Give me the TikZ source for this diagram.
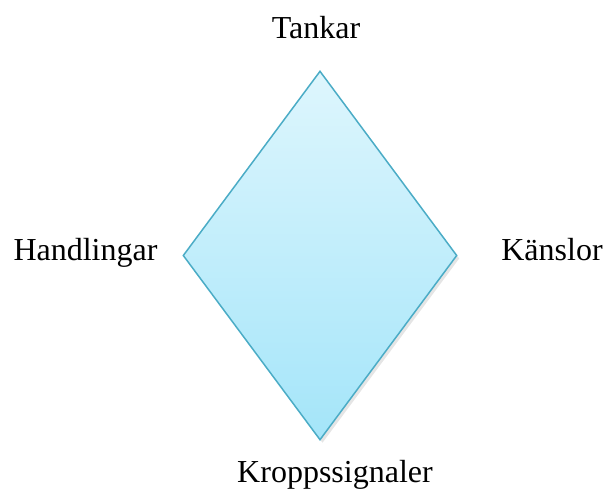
\documentclass[tikz,border=0pt]{standalone}
\usepackage{fontspec}
\setmainfont{Liberation Serif}
\usetikzlibrary{shapes.geometric}
\definecolor{rimblue}{HTML}{4BACC6}
\definecolor{toplight}{HTML}{DEF6FD}
\definecolor{botlight}{HTML}{A4E5F9}
\begin{document}
\begin{tikzpicture}[
    x=1pt,y=-1pt,
    every node/.style={font=\fontsize{32}{38}\selectfont,anchor=base},
    rhomb/.style={diamond,draw=rimblue,line width=1.5pt,inner sep=0pt,
        minimum width=274pt,minimum height=369pt,anchor=center}
]
\useasboundingbox (0,0) rectangle (607,488);
\node[rhomb,draw=none,fill=black,opacity=0.10] at (322.5,258.5) {};
\node[rhomb,top color=toplight,bottom color=botlight] (mind) at (320,255.5) {};

\node (tankar) at (316,38) {Tankar};
\node (handl) at (85.5,260) {Handlingar};
\node (kansl) at (552,260) {Känslor};
\node (kropp) at (335,482) {Kroppssignaler};
\end{tikzpicture}
\end{document}
